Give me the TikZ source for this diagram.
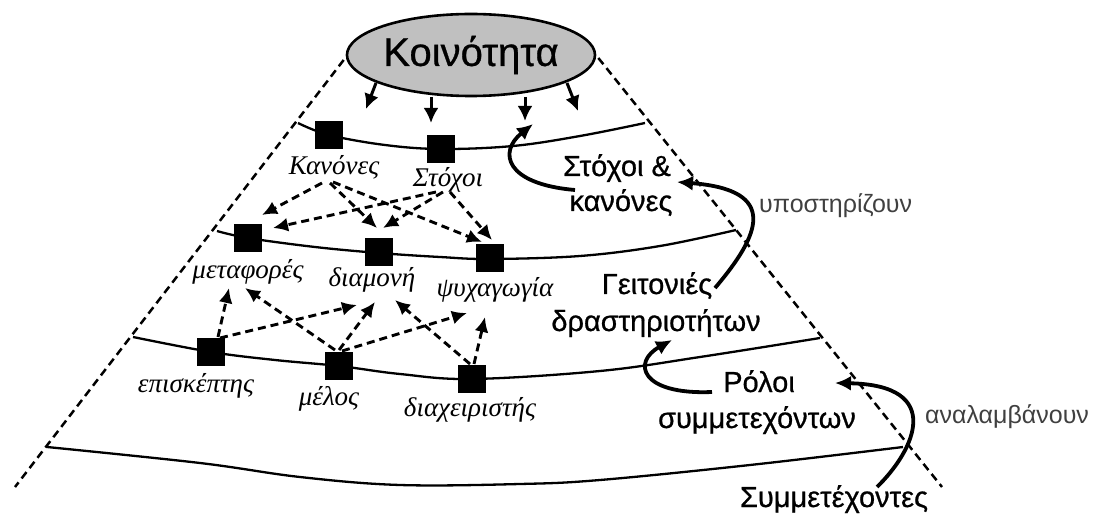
\documentclass[tikz,border=0pt]{standalone}
\usepackage{fontspec}
\setmainfont{Liberation Sans}
\newfontfamily\serifgr{Liberation Serif}
\newfontfamily\capfont{Liberation Sans}[FakeBold=0.7]
\usetikzlibrary{shapes.geometric,arrows.meta,calc}
\definecolor{ellfill}{RGB}{192,192,192}
\begin{document}
\begin{tikzpicture}[x=1pt,y=-1pt,
  layer/.style={line width=2.3pt},
  side/.style={line width=2.5pt, dash pattern=on 8pt off 5pt},
  role/.style={fill=black, minimum size=28pt, inner sep=0pt},
  lab/.style={font=\serifgr\itshape\fontsize{27}{32}\selectfont, inner sep=0pt, anchor=base},
  tier/.style={font=\capfont\fontsize{29}{34}\selectfont, inner sep=0pt, anchor=base},
  verb/.style={font=\fontsize{25}{30}\selectfont, text=black!75, inner sep=0pt, anchor=base west},
  link/.style={line width=2.9pt, dash pattern=on 8pt off 5pt, -{Latex[length=15pt,width=14pt]}},
  push/.style={line width=3pt, -{Latex[length=15pt,width=15pt]}},
  flow/.style={line width=3.8pt, -{Latex[length=16pt,width=15pt]}}
]
\useasboundingbox (0,0) rectangle (1100,518);

% community ellipse on top
\node[ellipse, draw, line width=2.6pt, fill=ellfill, minimum width=242pt,
      minimum height=82pt, inner sep=0pt, font=\capfont\fontsize{40}{46}\selectfont]
      (comm) at (471,55) {Κοινότητα};

% cone sides
\coordinate (lfoot) at (15,487);
\coordinate (rfoot) at (942,487);
\draw[side] ($(comm.west)+(-2,5)$) -- (lfoot);
\draw[side] ($(comm.east)+(2,3)$) -- (rfoot);

% layers of the cone
\draw[layer] plot[smooth, tension=0.6] coordinates
  {(298,123) (329,135) (385,145) (441,149) (513,146) (580,136) (645,123)};
\draw[layer] plot[smooth, tension=0.6] coordinates
  {(217,231) (248,238) (315,247) (379,253) (440,257) (490,259) (580,256) (660,246) (736,230)};
\draw[layer] plot[smooth, tension=0.6] coordinates
  {(133,337) (211,352) (275,360) (339,366) (400,374) (472,379) (600,371) (700,357) (820,338)};
\draw[layer] plot[smooth, tension=0.6] coordinates
  {(47,447) (200,463) (300,477) (400,485) (520,484) (600,480) (750,465) (903,447)};

% arrows from the community
\draw[push] ($(comm)+(-95,28)$) -- ($(comm)+(-105,54)$);
\draw[push] ($(comm)+(-40,42)$) -- ($(comm)+(-40,68)$);
\draw[push] ($(comm)+(54,42)$) -- ($(comm)+(54,66)$);
\draw[push] ($(comm)+(96,28)$) -- ($(comm)+(107,56)$);

% role boxes
\node[role] (bKan) at (329,135) {};
\node[role] (bSto) at (441,149) {};
\node[role] (bMet) at (248,238) {};
\node[role] (bDia) at (379,252) {};
\node[role] (bPsy) at (490,258) {};
\node[role] (bEpi) at (211,352) {};
\node[role] (bMel) at (339,366) {};
\node[role] (bDiax) at (472,379) {};

% box labels
\node[lab] (lKan) at (334,175) {Κανόνες};
\node[lab] (lSto) at (448,187) {Στόχοι};
\node[lab] (lMet) at (248,279) {μεταφορές};
\node[lab] (lDia) at (372,287) {διαμονή};
\node[lab] (lPsy) at (495,297) {ψυχαγωγία};
\node[lab] (lEpi) at (196,392) {επισκέπτης};
\node[lab] (lMel) at (329,405) {μέλος};
\node[lab] (lDiax) at (470,416) {διαχειριστής};

% rules and goals feed the activities
\draw[link] ($(lKan.base)+(-12,8)$) -- ($(bMet)+(14,-23)$);
\draw[link] ($(lKan.base)+(-4,8)$) -- ($(bDia)+(-2,-24)$);
\draw[link] ($(lKan.base)+(-1,7)$) -- ($(bPsy)+(-8,-16)$);
\draw[link] ($(lSto.base)+(-12,5)$) -- ($(bMet)+(25,-10)$);
\draw[link] ($(lSto.base)+(-5,5)$) -- ($(bDia)+(4,-24)$);
\draw[link] ($(lSto.base)+(2,5)$) -- ($(bPsy)+(2,-18)$);

% participants reach the activities
\draw[link] ($(bEpi)+(7,-15)$) -- ($(lMet.base)+(-19,9)$);
\draw[link] ($(bEpi)+(9,-14)$) -- ($(lDia.base)+(-15,18)$);
\draw[link] ($(bMel)+(-4,-16)$) -- ($(lMet.base)+(-3,9)$);
\draw[link] ($(bMel)+(0,-16)$) -- ($(lDia.base)+(3,15)$);
\draw[link] ($(bMel)+(3,-15)$) -- ($(lPsy.base)+(-28,16)$);
\draw[link] ($(bDiax)+(-2,-15)$) -- ($(lDia.base)+(23,13)$);
\draw[link] ($(bDiax)+(2,-15)$) -- ($(lPsy.base)+(-10,20)$);

% tier captions
\node[tier] (tSto) at (617,176) {Στόχοι \&};
\node[tier] (tKan) at (621,211) {κανόνες};
\node[tier] (tGei) at (657,294) {Γειτονιές};
\node[tier] (tDra) at (656,331) {δραστηριοτήτων};
\node[tier] (tRol) at (759,392) {Ρόλοι};
\node[tier] (tSum) at (757,428) {συμμετεχόντων};
\node[tier] (tSym) at (834,507) {Συμμετέχοντες};
\node[verb] (vUpo) at (759,213) {υποστηρίζουν};
\node[verb] (vAna) at (925,423) {αναλαμβάνουν};

% relations between tiers
\coordinate (topLayer) at (533,124);
\draw[flow] ($(tSto.base)+(-42,14)$) .. controls (505,184) and (498,152) .. (topLayer);
\draw[flow] ($(tGei.base)+(58,-6)$) .. controls (760,235) and (780,190) .. ($(tSto.base)+(60,6)$);
\draw[flow] ($(tRol.base)+(-47,0)$) .. controls (640,395) and (632,362) .. ($(tDra.base)+(16,9)$);
\draw[flow] ($(tSym.base)+(43,-20)$) .. controls (915,450) and (945,385) .. ($(tRol.base)+(76,-9)$);
\end{tikzpicture}
\end{document}
